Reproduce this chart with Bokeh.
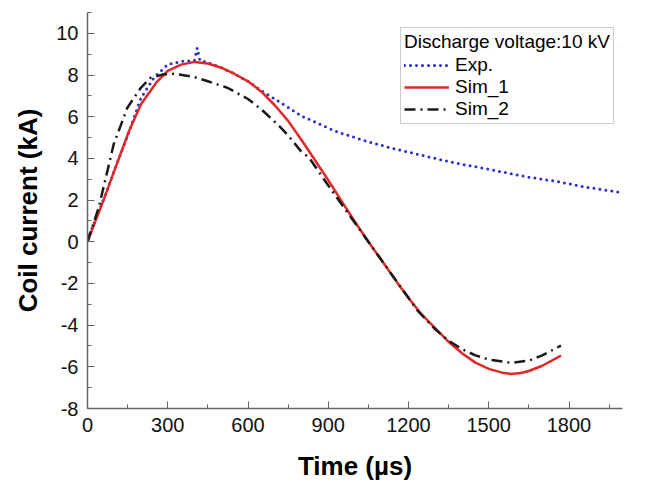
from bokeh.plotting import figure
from bokeh.models import Range1d, SingleIntervalTicker, Legend, LegendItem, PrintfTickFormatter
from bokeh.embed import file_html
from bokeh.resources import INLINE

# Time (µs) and coil current (kA)
t_exp = [0, 50, 100, 150, 200, 250, 300, 350, 400, 410, 420, 450, 500, 550, 600, 650, 700, 750,
         800, 850, 900, 950, 1000, 1050, 1100, 1150, 1200, 1250, 1300, 1350, 1400, 1450, 1500,
         1550, 1600, 1650, 1700, 1750, 1800, 1850, 1900, 1950, 2000]
i_exp = [0.1, 1.7, 3.4, 5.1, 6.9, 7.9, 8.5, 8.65, 8.7, 9.3, 8.7, 8.6, 8.35, 8.05, 7.7, 7.25, 6.85, 6.45,
         6.03, 5.75, 5.45, 5.2, 5.0, 4.8, 4.62, 4.45, 4.3, 4.15, 4.0, 3.85, 3.72, 3.6, 3.48,
         3.35, 3.22, 3.1, 3.0, 2.9, 2.78, 2.65, 2.55, 2.45, 2.36]

t_sim1 = [0, 30, 60, 100, 155, 200, 261, 300, 350, 400, 450, 500, 550, 600, 650, 700, 750, 800, 850,
          900, 950, 1000, 1050, 1100, 1171, 1200, 1250, 1296, 1350, 1400, 1450, 1500, 1550, 1583,
          1620, 1650, 1700, 1770]
i_sim1 = [0, 1.0, 2.0, 3.4, 5.3, 6.6, 7.7, 8.2, 8.5, 8.63, 8.55, 8.35, 8.05, 7.7, 7.2, 6.55, 5.8, 4.88, 3.92,
          2.95, 1.95, 0.95, 0.0, -0.9, -2.19, -2.7, -3.5, -4.1, -4.8, -5.35, -5.8, -6.1, -6.28, -6.34,
          -6.3, -6.2, -5.95, -5.46]

t_sim2 = [0, 42, 98, 149, 200, 236, 280, 323, 400, 450, 523, 600, 650, 710, 750, 797, 828, 900, 950,
          1000, 1050, 1100, 1150, 1234, 1300, 1350, 1400, 1450, 1500, 1583, 1650, 1700, 1770]
i_sim2 = [0, 1.64, 4.68, 6.43, 7.4, 7.87, 8.02, 8.06, 7.9, 7.7, 7.39, 6.85, 6.35, 5.64, 5.1, 4.36, 4.04, 2.7, 1.8,
          0.9, 0.0, -0.9, -1.8, -3.3, -4.2, -4.75, -5.15, -5.45, -5.65, -5.81, -5.7, -5.45, -4.98]

legend_title = "Discharge voltage:10 kV"
names = ["Exp.", "Sim_1", "Sim_2"]

FONT = "Liberation Sans"

p = figure(width=649, height=484, output_backend="svg", toolbar_location=None,
           x_range=Range1d(0, 2000), y_range=Range1d(-8, 11),
           min_border_left=87, min_border_right=27, min_border_top=12, min_border_bottom=76)
p.outline_line_color = None
p.grid.visible = False
p.background_fill_color = "white"

r_exp = p.line(t_exp, i_exp, line_color="#2b2bd0", line_width=3, line_dash="0 6", line_cap="round")
r_s1 = p.line(t_sim1, i_sim1, line_color="#e02828", line_width=2.5)
r_s2 = p.line(t_sim2, i_sim2, line_color="#1a1a1a", line_width=2.5, line_dash="11 5 2 5")

p.xaxis.ticker = SingleIntervalTicker(interval=300, num_minor_ticks=2)
p.yaxis.ticker = SingleIntervalTicker(interval=2, num_minor_ticks=2)
p.xaxis.formatter = PrintfTickFormatter(format="%d")
p.yaxis.formatter = PrintfTickFormatter(format="%d")

for ax in (p.xaxis[0], p.yaxis[0]):
    ax.axis_line_color = "#666666"
    ax.axis_line_width = 1.5
    ax.major_tick_line_color = "#666666"
    ax.minor_tick_line_color = "#666666"
    ax.major_tick_in = 7
    ax.major_tick_out = 0
    ax.minor_tick_in = 4
    ax.minor_tick_out = 0
    ax.major_label_text_font = FONT
    ax.major_label_text_font_size = "20px"
    ax.major_label_text_color = "#111111"
    ax.axis_label_text_font = FONT
    ax.axis_label_text_font_size = "26px"
    ax.axis_label_text_font_style = "bold"
    ax.axis_label_text_color = "#000000"
    ax.major_label_standoff = 9

p.xaxis.axis_label = "Time (µs)"
p.yaxis.axis_label = "Coil current (kA)"
p.xaxis.axis_label_standoff = 16
p.yaxis.axis_label_standoff = 10

legend = Legend(items=[LegendItem(label=names[0], renderers=[r_exp]),
                       LegendItem(label=names[1], renderers=[r_s1]),
                       LegendItem(label=names[2], renderers=[r_s2])],
                location=(313, 284), title=legend_title)
legend.title_text_font = FONT
legend.title_text_font_size = "19px"
legend.title_text_font_style = "normal"
legend.title_text_color = "#000000"
legend.title_standoff = 1
legend.label_text_font = FONT
legend.label_text_font_size = "19px"
legend.label_text_color = "#000000"
legend.label_height = 18
legend.glyph_width = 45
legend.glyph_height = 18
legend.label_standoff = 6
legend.spacing = 0
legend.padding = 3
legend.margin = 0
legend.border_line_color = "#999999"
legend.border_line_width = 1
legend.background_fill_alpha = 1
p.add_layout(legend)

open("out.html", "w").write(file_html(p, INLINE))
